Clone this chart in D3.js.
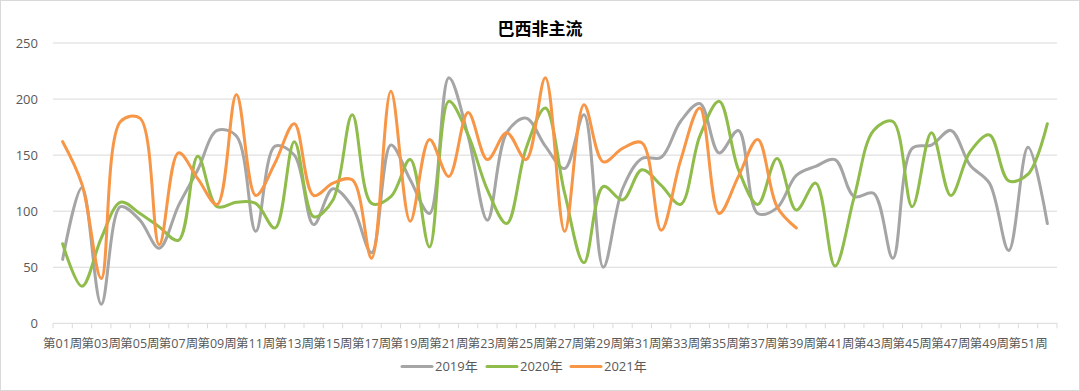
<!DOCTYPE html>
<html><head><meta charset="utf-8">
<script src="https://cdn.jsdelivr.net/npm/d3@7"></script>
<style>
html,body{margin:0;padding:0;background:#fff;}
svg{display:block;}
text{font-family:"Open Sans","Noto Sans CJK SC",sans-serif;}
</style></head>
<body><svg id="c" width="1080" height="391"></svg>
<script>
const weeks = ["第01周","第02周","第03周","第04周","第05周","第06周","第07周","第08周","第09周","第10周",
"第11周","第12周","第13周","第14周","第15周","第16周","第17周","第18周","第19周","第20周",
"第21周","第22周","第23周","第24周","第25周","第26周","第27周","第28周","第29周","第30周",
"第31周","第32周","第33周","第34周","第35周","第36周","第37周","第38周","第39周","第40周",
"第41周","第42周","第43周","第44周","第45周","第46周","第47周","第48周","第49周","第50周",
"第51周","第52周"];
const yTicks = [0,50,100,150,200,250];
const seriesNames = ["2019年","2020年","2021年"];
const y2019 = [57,121,17,104,92,67,105,137,172,167,82,158,150,88,120,104,63,159,128,98,219,167,92,170,183,158,138,186,50,120,147,148,180,196,152,172,98,103,132,140,146,113,116,58,156,159,172,141,125,65,157,89];
const y2020 = [71,33,76,108,98,86,74,149,104,108,107,85,162,95,110,186,107,113,146,68,198,168,119,89,156,192,116,54,122,110,137,123,106,167,198,137,106,147,101,125,51,113,172,180,104,170,114,153,168,127,133,178];
const y2021 = [162,124,40,180,183,70,152,129,106,204,114,143,178,114,125,128,58,207,91,164,131,188,146,170,146,219,82,195,144,156,161,83,145,192,98,131,164,104,85];
const colors = ["#A5A5A5","#8FBC4A","#F79646"];

const svg = d3.select("#c");
svg.append("rect").attr("x",0.5).attr("y",0.5).attr("width",1079).attr("height",390)
  .attr("fill","#fff").attr("stroke","#d9d9d9");

const x = d3.scaleBand().domain(weeks).range([53,1057]).padding(0);
const y = d3.scaleLinear().domain([0,250]).range([323.3,43]);
const cx = d => x(d) + x.bandwidth()/2;

svg.append("g").selectAll("line").data(yTicks).join("line")
  .attr("x1",53).attr("x2",1057).attr("y1",d=>y(d)).attr("y2",d=>y(d))
  .attr("stroke","#d9d9d9").attr("stroke-width",1);

svg.append("g").selectAll("text").data(yTicks).join("text")
  .attr("x",38).attr("y",d=>y(d)).attr("dy","0.35em").attr("text-anchor","end")
  .attr("font-size",13).attr("fill","#595959").text(d=>d);

const bounds = weeks.map(w=>x(w)).concat([x(weeks[weeks.length-1])+x.bandwidth()]);
svg.append("g").selectAll("line").data(bounds).join("line")
  .attr("x1",d=>d).attr("x2",d=>d).attr("y1",y(0)).attr("y2",y(0)+5)
  .attr("stroke","#d9d9d9");

svg.append("g").selectAll("text").data(weeks.filter((w,i)=>i%2===0)).join("text")
  .attr("x",d=>cx(d)).attr("y",348).attr("text-anchor","middle")
  .attr("font-size",12.5).attr("fill","#595959").text(d=>d);

const line = d3.line().x((d,i)=>cx(weeks[i])).y(d=>y(d)).curve(d3.curveCatmullRom.alpha(0.5));
[y2019,y2020,y2021].forEach((s,k)=>{
  svg.append("path").datum(s).attr("d",line).attr("fill","none")
    .attr("stroke",colors[k]).attr("stroke-width",3).attr("stroke-linecap","round").attr("stroke-linejoin","round");
});

svg.append("text").attr("x",540).attr("y",35).attr("text-anchor","middle")
  .attr("font-size",17).attr("font-weight","bold").attr("fill","#000").text("巴西非主流");

const legX = [402,487,571];
seriesNames.forEach((n,k)=>{
  svg.append("line").attr("x1",legX[k]).attr("x2",legX[k]+30).attr("y1",366.5).attr("y2",366.5)
    .attr("stroke",colors[k]).attr("stroke-width",3).attr("stroke-linecap","round");
  svg.append("text").attr("x",legX[k]+33).attr("y",366.5).attr("dy","0.35em")
    .attr("font-size",13).attr("fill","#595959").text(n);
});
</script></body></html>
